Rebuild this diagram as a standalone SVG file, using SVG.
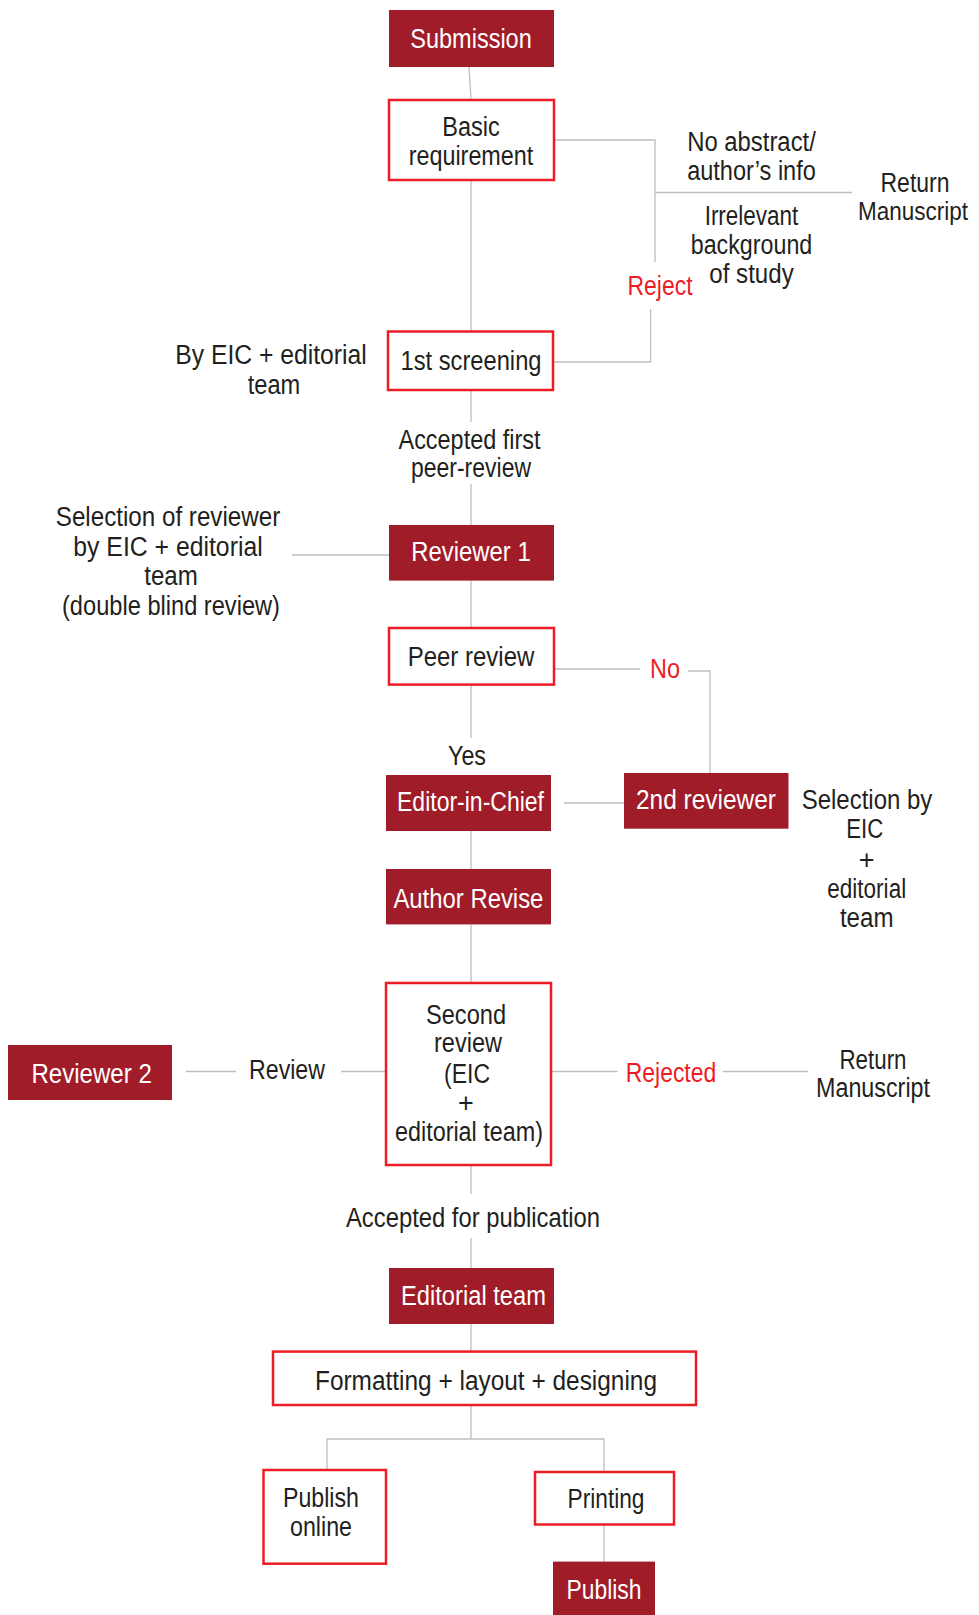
<svg xmlns="http://www.w3.org/2000/svg" width="979" height="1615" viewBox="0 0 979 1615">
<style>
.dk{fill:#a11c29}
.ol{fill:#fff;stroke:#ed1c24;stroke-width:2.5}
.t{font-family:"Liberation Sans",Arial,sans-serif;font-size:27px;fill:#231f20;text-anchor:middle}
.w{fill:#fff}
.r{fill:#ed1c24}
.c{stroke:#bcbec0;stroke-width:1.3;fill:none}
</style>
<rect width="979" height="1615" fill="#fff"/>
<g id="connectors" class="c">
<path d="M469 67 L471 100"/>
<path d="M471 180 V331"/>
<path d="M554 140 H655 V262"/>
<path d="M655 192.5 H852"/>
<path d="M553 362 H650.6 V309"/>
<path d="M471 390 V422"/>
<path d="M471 484 V525"/>
<path d="M292 555 H389"/>
<path d="M471 580.6 V628"/>
<path d="M554 669 H640"/>
<path d="M688 671 H710 V773"/>
<path d="M471 684.6 V738"/>
<path d="M564 803 H624"/>
<path d="M471 831 V869"/>
<path d="M471 924.4 V983"/>
<path d="M186 1071.5 H236"/>
<path d="M341 1071.5 H386"/>
<path d="M551 1071.5 H617.6"/>
<path d="M722.6 1071.5 H808"/>
<path d="M471 1165 V1194"/>
<path d="M471 1238 V1268"/>
<path d="M471 1324 V1351.6"/>
<path d="M471 1405 V1439"/>
<path d="M327 1470 V1439 H604 V1472"/>
<path d="M604 1524.5 V1561.6"/>
</g>
<g id="submission"><rect class="dk" x="389" y="10" width="165" height="57"/><text class="t w" x="471" y="48" textLength="121.5" lengthAdjust="spacingAndGlyphs">Submission</text></g>
<g id="basic-requirement"><rect class="ol" x="389" y="100" width="165" height="80"/><text class="t" x="471" y="136" textLength="57.6" lengthAdjust="spacingAndGlyphs">Basic</text><text class="t" x="471" y="165" textLength="124.6" lengthAdjust="spacingAndGlyphs">requirement</text></g>
<g id="reject-reasons"><text class="t" x="751.5" y="151" textLength="128.7" lengthAdjust="spacingAndGlyphs">No abstract/</text><text class="t" x="751.5" y="180" textLength="128.7" lengthAdjust="spacingAndGlyphs">author’s info</text><text class="t" x="751.5" y="224.5" textLength="93.7" lengthAdjust="spacingAndGlyphs">Irrelevant</text><text class="t" x="751.5" y="254" textLength="121.5" lengthAdjust="spacingAndGlyphs">background</text><text class="t" x="751.5" y="283" textLength="84.4" lengthAdjust="spacingAndGlyphs">of study</text></g>
<g id="return-1"><text class="t" x="915" y="191.5" textLength="69" lengthAdjust="spacingAndGlyphs">Return</text><text class="t" x="913" y="220" style="font-size:26px" textLength="110" lengthAdjust="spacingAndGlyphs">Manuscript</text></g>
<g id="reject"><text class="t r" x="660" y="294.5" textLength="65" lengthAdjust="spacingAndGlyphs">Reject</text></g>
<g id="first-screening"><rect class="ol" x="388" y="331.5" width="165" height="58.5"/><text class="t" x="471" y="369.6" textLength="141" lengthAdjust="spacingAndGlyphs">1st screening</text></g>
<g id="by-eic"><text class="t" x="271" y="364.4" textLength="191.5" lengthAdjust="spacingAndGlyphs">By EIC + editorial</text><text class="t" x="274" y="394" textLength="52.5" lengthAdjust="spacingAndGlyphs">team</text></g>
<g id="accepted-first"><text class="t" x="469.5" y="449" textLength="142" lengthAdjust="spacingAndGlyphs">Accepted first</text><text class="t" x="471" y="476.6" textLength="120" lengthAdjust="spacingAndGlyphs">peer-review</text></g>
<g id="reviewer-1"><rect class="dk" x="389" y="525" width="165" height="55.6"/><text class="t w" x="471" y="561" textLength="119.4" lengthAdjust="spacingAndGlyphs">Reviewer 1</text></g>
<g id="selection-reviewer"><text class="t" x="168" y="526" textLength="224.4" lengthAdjust="spacingAndGlyphs">Selection of reviewer</text><text class="t" x="168" y="556" textLength="189.4" lengthAdjust="spacingAndGlyphs">by EIC + editorial</text><text class="t" x="171" y="584.7" textLength="53.5" lengthAdjust="spacingAndGlyphs">team</text><text class="t" x="171" y="614.5" textLength="218" lengthAdjust="spacingAndGlyphs">(double blind review)</text></g>
<g id="peer-review"><rect class="ol" x="389" y="628" width="165" height="56.6"/><text class="t" x="471" y="666" textLength="126.6" lengthAdjust="spacingAndGlyphs">Peer review</text></g>
<g id="no"><text class="t r" x="665" y="678" textLength="30" lengthAdjust="spacingAndGlyphs">No</text></g>
<g id="yes"><text class="t" x="467" y="765" textLength="38" lengthAdjust="spacingAndGlyphs">Yes</text></g>
<g id="editor-in-chief"><rect class="dk" x="386" y="775" width="165" height="56"/><text class="t w" x="470.5" y="811" textLength="147" lengthAdjust="spacingAndGlyphs">Editor-in-Chief</text></g>
<g id="second-reviewer"><rect class="dk" x="624" y="773" width="164.5" height="55.7"/><text class="t w" x="706" y="809" textLength="140" lengthAdjust="spacingAndGlyphs">2nd reviewer</text></g>
<g id="selection-by"><text class="t" x="867" y="809" textLength="130.7" lengthAdjust="spacingAndGlyphs">Selection by</text><text class="t" x="864.7" y="838" textLength="37" lengthAdjust="spacingAndGlyphs">EIC</text><text class="t" x="866.7" y="869">+</text><text class="t" x="866.7" y="897.6" textLength="79" lengthAdjust="spacingAndGlyphs">editorial</text><text class="t" x="866.7" y="926.5" textLength="53.5" lengthAdjust="spacingAndGlyphs">team</text></g>
<g id="author-revise"><rect class="dk" x="386" y="869" width="165" height="55.4"/><text class="t w" x="468.4" y="908" textLength="150" lengthAdjust="spacingAndGlyphs">Author Revise</text></g>
<g id="second-review"><rect class="ol" x="386" y="983" width="165" height="182"/><text class="t" x="466" y="1024" textLength="80" lengthAdjust="spacingAndGlyphs">Second</text><text class="t" x="468" y="1052" textLength="68" lengthAdjust="spacingAndGlyphs">review</text><text class="t" x="467" y="1083" textLength="46" lengthAdjust="spacingAndGlyphs">(EIC</text><text class="t" x="466" y="1112">+</text><text class="t" x="469" y="1140.6" textLength="148" lengthAdjust="spacingAndGlyphs">editorial team)</text></g>
<g id="reviewer-2"><rect class="dk" x="8" y="1045" width="164" height="55"/><text class="t w" x="91.6" y="1083" textLength="120.4" lengthAdjust="spacingAndGlyphs">Reviewer 2</text></g>
<g id="review"><text class="t" x="287" y="1079" textLength="76" lengthAdjust="spacingAndGlyphs">Review</text></g>
<g id="rejected"><text class="t r" x="671" y="1082" textLength="90.6" lengthAdjust="spacingAndGlyphs">Rejected</text></g>
<g id="return-2"><text class="t" x="873" y="1068.5" textLength="67" lengthAdjust="spacingAndGlyphs">Return</text><text class="t" x="873" y="1097" textLength="114" lengthAdjust="spacingAndGlyphs">Manuscript</text></g>
<g id="accepted-publication"><text class="t" x="473" y="1227" textLength="254" lengthAdjust="spacingAndGlyphs">Accepted for publication</text></g>
<g id="editorial-team"><rect class="dk" x="389" y="1268" width="165" height="56"/><text class="t w" x="473.5" y="1305" textLength="145" lengthAdjust="spacingAndGlyphs">Editorial team</text></g>
<g id="formatting"><rect class="ol" x="273" y="1351.6" width="423" height="53.4"/><text class="t" x="486" y="1390" textLength="342" lengthAdjust="spacingAndGlyphs">Formatting + layout + designing</text></g>
<g id="publish-online"><rect class="ol" x="263.5" y="1470" width="122.5" height="93.7"/><text class="t" x="321" y="1507" textLength="76" lengthAdjust="spacingAndGlyphs">Publish</text><text class="t" x="321" y="1536" textLength="62" lengthAdjust="spacingAndGlyphs">online</text></g>
<g id="printing"><rect class="ol" x="535" y="1472" width="139" height="52.5"/><text class="t" x="606" y="1508" textLength="77" lengthAdjust="spacingAndGlyphs">Printing</text></g>
<g id="publish"><rect class="dk" x="553" y="1561.6" width="102" height="53.4"/><text class="t w" x="604" y="1599" textLength="75" lengthAdjust="spacingAndGlyphs">Publish</text></g>
</svg>
